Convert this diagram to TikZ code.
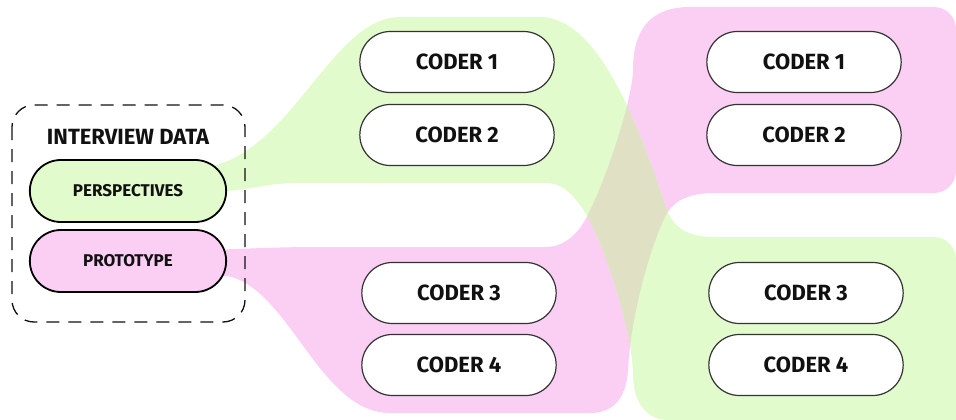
\documentclass[tikz,border=0pt]{standalone}
\usepackage{fontspec}
\setsansfont{Fira Sans}
\usepackage{tikz}
\usetikzlibrary{shapes.misc}
\definecolor{flowgreen}{HTML}{E2FBCC}
\definecolor{flowpink}{HTML}{FBCEF3}
\definecolor{flowmix}{HTML}{E0E0C5}
\definecolor{pillline}{HTML}{333333}
\definecolor{inkblack}{HTML}{111111}

\tikzset{
  coderpill/.style={rounded rectangle,draw=pillline,line width=1.2pt,fill=white,
    minimum width=201pt,minimum height=61pt,text=inkblack,
    font=\sffamily\bfseries\fontsize{22}{24}\selectfont},
  sourcepill/.style={rounded rectangle,draw=black,line width=1.8pt,
    minimum width=203pt,minimum height=62pt,text=inkblack,
    font=\sffamily\bfseries\fontsize{17}{19}\selectfont},
}

% ribbons, in pixel coordinates (y down)
\def\greenflow{(200,168) .. controls (290,160) and (330,17) .. (400,17)
  -- (540,17) .. controls (600,17) and (640,130) .. (667,210)
  .. controls (675,230) and (690,237) .. (715,237)
  -- (934,237) .. controls (946,237) and (956,247) .. (956,259)
  -- (956,420) -- (668,420) .. controls (645,420) and (633,400) .. (633,375)
  .. controls (633,330) and (600,230) .. (580,205)
  .. controls (570,192) and (562,183) .. (545,183)
  -- (300,183) .. controls (260,183) and (250,192) .. (200,192) -- cycle}
\def\pinkflow{(200,250) .. controls (250,249) and (270,247) .. (320,247)
  -- (545,247) .. controls (562,247) and (572,238) .. (580,228)
  .. controls (600,200) and (633,100) .. (633,70)
  .. controls (633,30) and (650,7) .. (690,7)
  -- (934,7) .. controls (946,7) and (956,17) .. (956,29)
  -- (956,171) .. controls (956,183) and (946,193) .. (934,193)
  -- (715,193) .. controls (690,193) and (675,200) .. (667,213)
  .. controls (650,245) and (630,320) .. (628,370)
  .. controls (626,400) and (612,413) .. (590,413)
  -- (390,413) .. controls (320,413) and (290,290) .. (228,276)
  -- (200,276) -- cycle}

\begin{document}
\begin{tikzpicture}[x=1pt,y=-1pt]
  \useasboundingbox (0,0) rectangle (956,420);

  \fill[flowpink] \pinkflow;
  \fill[flowgreen] \greenflow;
  \begin{scope}
    \clip \pinkflow;
    \fill[flowmix] \greenflow;
  \end{scope}

  % source box
  \draw[inkblack,line width=1.3pt,dash pattern=on 13pt off 9pt,rounded corners=22pt]
    (12,105) rectangle (245,322);
  \node[text=inkblack,font=\sffamily\bfseries\fontsize{22}{24}\selectfont]
    (title) at (128,137) {INTERVIEW DATA};
  \node[sourcepill,fill=flowgreen] (persp) at (128,191) {PERSPECTIVES};
  \node[sourcepill,fill=flowpink] (proto) at (128,261) {PROTOTYPE};

  % coders
  \foreach \n/\x/\y/\k in {cl1/457/62/1, cl2/457/135/2, cl3/459/293/3, cl4/459/365/4,
      cr1/804/62/1, cr2/804/135/2, cr3/806/293/3, cr4/806/365/4} {
    \node[coderpill] (\n) at (\x,\y) {CODER \k};
  }
\end{tikzpicture}
\end{document}
